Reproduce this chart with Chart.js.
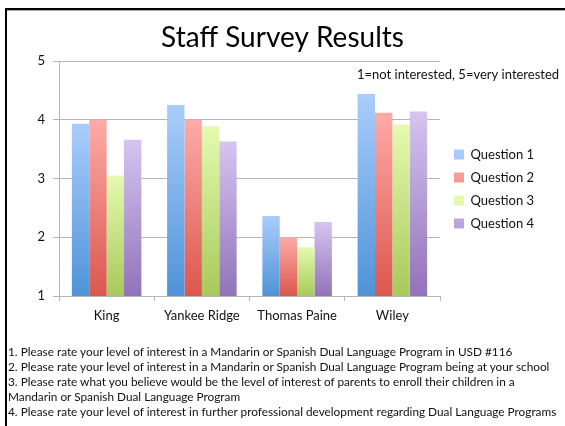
<!DOCTYPE html>
<html>
<head>
<meta charset="utf-8">
<script src="https://cdn.jsdelivr.net/npm/chart.js@4.4.1/dist/chart.umd.min.js"></script>
<style>
  html, body { margin: 0; padding: 0; background: #fff; }
  body { width: 565px; height: 426px; position: relative; overflow: hidden; font-family: Lato, "Open Sans", sans-serif; }
  #frame { position: absolute; left: 5px; top: 8px; width: 600px; height: 500px; border-left: 2px solid #000; border-top: 2px solid #000; box-shadow: inset 0 1px 0 #aaa; pointer-events: none; }
  #wrap { position: absolute; left: 0; top: 0; width: 565px; height: 330px; }
  #notes { position: absolute; left: 8px; top: 344px; font-size: 11.8px; line-height: 15px; color: #111; white-space: nowrap; }
</style>
</head>
<body>
<div id="wrap"><canvas id="chart"></canvas></div>
<div id="frame"></div>
<div id="notes">
  1. Please rate your level of interest in a Mandarin or Spanish Dual Language Program in USD #116<br>
  2. Please rate your level of interest in a Mandarin or Spanish Dual Language Program being at your school<br>
  3. Please rate what you believe would be the level of interest of parents to enroll their children in a<br>
  Mandarin or Spanish Dual Language Program<br>
  4. Please rate your level of interest in further professional development regarding Dual Language Programs
</div>
<script>
// Data
const schools = ["King", "Yankee Ridge", "Thomas Paine", "Wiley"];
const question1 = [3.93, 4.25, 2.36, 4.44];
const question2 = [4.0, 4.0, 2.0, 4.12];
const question3 = [3.05, 3.89, 1.83, 3.92];
const question4 = [3.66, 3.63, 2.26, 4.14];
const questionNames = ["Question 1", "Question 2", "Question 3", "Question 4"];
const yTicks = [1, 2, 3, 4, 5];

// light (top) / dark (bottom) colour for each question
const palette = [
    ["#aacdfb", "#4e93d8"],
    ["#fdaba7", "#db574d"],
    ["#e5fab0", "#a8c95a"],
    ["#d6c4f0", "#9173ba"],
];

// gradient from the top of each bar down to its base
function barFill(i) {
    return function (c) {
        const chart = c.chart;
        if (c.type !== "data" || !chart.chartArea) {
            return palette[i][1];
        }
        const y = chart.scales.y;
        const top = y.getPixelForValue(c.raw);
        const base = y.getPixelForValue(yTicks[0]);
        if (!isFinite(top) || base - top < 1) return palette[i][1];
        const g = chart.ctx.createLinearGradient(0, top, 0, base);
        g.addColorStop(0, palette[i][0]);
        g.addColorStop(1, palette[i][1]);
        return g;
    };
}

const seriesValues = [question1, question2, question3, question4];

// note in the top right + legend placement
const notePlugin = {
    id: "note",
    afterInit(chart) {
        const lg = chart.legend;
        if (!lg) return;
        const fit = lg.fit.bind(lg);
        lg.fit = function () {
            fit();
            this.width = 125;
        };
        const draw = lg.draw.bind(lg);
        lg.draw = function () {
            chart.ctx.save();
            chart.ctx.translate(4, 24);
            draw();
            chart.ctx.restore();
        };
    },
    afterDraw(chart) {
        const ctx = chart.ctx;
        ctx.save();
        ctx.font = "13px Lato, sans-serif";
        ctx.fillStyle = "#111";
        ctx.textAlign = "left";
        ctx.textBaseline = "middle";
        ctx.fillText("1=not interested, 5=very interested", 357, 75);
        ctx.restore();
    },
};

new Chart(document.getElementById("chart"), {
    type: "bar",
    data: {
        labels: schools,
        datasets: seriesValues.map((vals, i) => ({
            label: questionNames[i],
            data: vals,
            backgroundColor: barFill(i),
            borderWidth: 0,
            categoryPercentage: 0.73,
            barPercentage: 1.0,
        })),
    },
    options: {
        responsive: true,
        maintainAspectRatio: false,
        animation: false,
        layout: { padding: 0 },
        plugins: {
            title: {
                display: true,
                text: "Staff Survey Results",
                color: "#000",
                font: { family: "Lato, sans-serif", size: 28, weight: "normal" },
                padding: { top: 21, bottom: 6.4 },
            },
            legend: {
                position: "right",
                align: "center",
                labels: {
                    boxWidth: 10,
                    boxHeight: 10,
                    padding: 10,
                    color: "#111",
                    font: { family: "Lato, sans-serif", size: 13 },
                },
            },
            tooltip: { enabled: false },
        },
        scales: {
            x: {
                grid: {
                    offset: true,
                    drawOnChartArea: false,
                    drawTicks: true,
                    tickLength: 5,
                    color: "#b5b5b5",
                },
                border: { color: "#b5b5b5" },
                ticks: {
                    color: "#111",
                    padding: 7,
                    font: { family: "Lato, sans-serif", size: 13 },
                },
                afterFit(s) { s.height = 34; },
            },
            y: {
                min: 1,
                max: 5,
                ticks: {
                    stepSize: 1,
                    color: "#111",
                    padding: 8,
                    font: { family: "Lato, sans-serif", size: 13 },
                },
                grid: { color: "#b5b5b5", tickLength: 6 },
                border: { color: "#b5b5b5" },
                afterFit(s) { s.width = 59; },
            },
        },
    },
    plugins: [notePlugin],
});
</script>
</body>
</html>
